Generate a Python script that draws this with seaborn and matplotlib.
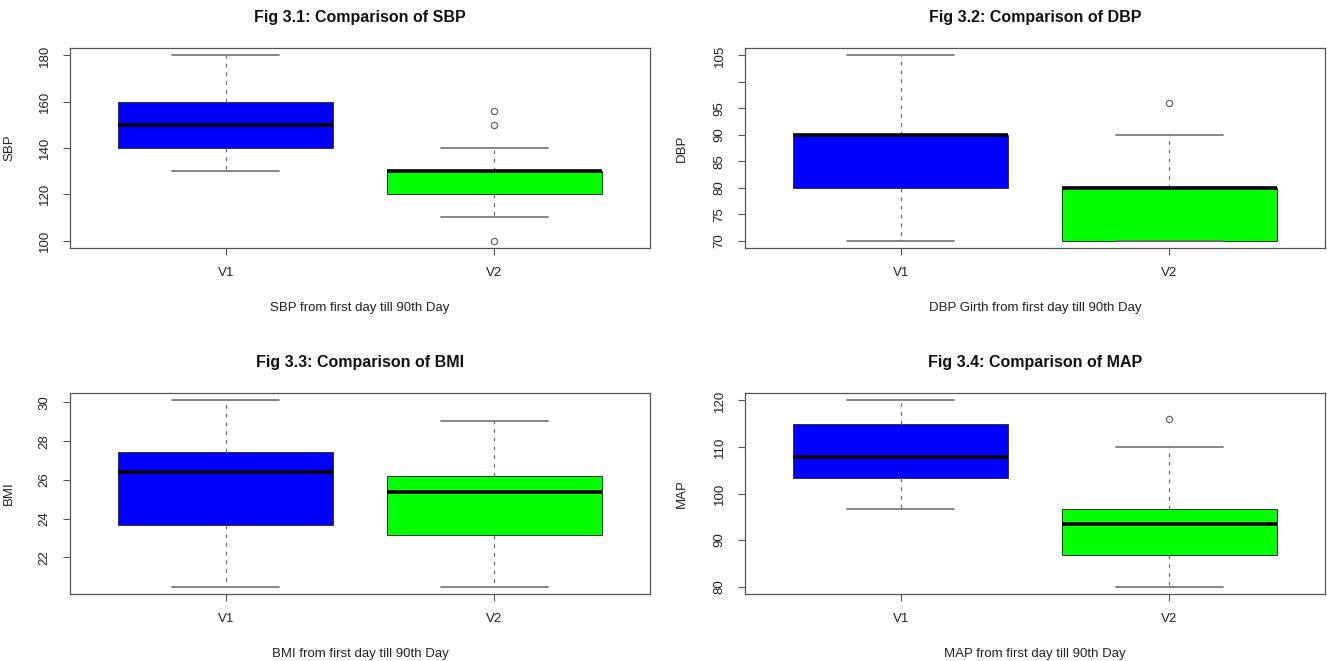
import matplotlib
matplotlib.use("Agg")
import numpy as np
import pandas as pd
import matplotlib.pyplot as plt
import seaborn as sns

# ------------------------------------------------------------
# data: observations per visit, read off the four boxplots
# ------------------------------------------------------------
visits = ["V1", "V2"]
box_colors = ["#0000FF", "#00FF00"]

sbp_v1 = [130, 140, 150, 160, 180]
sbp_v2 = [100, 110, 115, 120, 125, 128, 130, 130, 130, 130, 140, 150, 156]

dbp_v1 = [70, 80, 90, 90, 105]
dbp_v2 = [70, 70, 70, 75, 80, 80, 80, 90, 96]

bmi_v1 = [20.5, 23.7, 26.4, 27.45, 30.1]
bmi_v2 = [20.5, 23.15, 25.4, 26.2, 29.05]

map_v1 = [96.6, 103.4, 107.8, 115.0, 120.0]
map_v2 = [80, 84, 86.7, 90, 93.4, 95, 96.7, 110, 116]

titles = ["Fig 3.1: Comparison of SBP", "Fig 3.2: Comparison of DBP",
          "Fig 3.3: Comparison of BMI", "Fig 3.4: Comparison of MAP"]
ylabels = ["SBP", "DBP", "BMI", "MAP"]
xlabels = ["SBP from first day till 90th Day", "DBP Girth from first day till 90th Day",
           "BMI from first day till 90th Day", "MAP from first day till 90th Day"]
yticks = [[100, 120, 140, 160, 180],
          [70, 75, 80, 85, 90, 95, 100, 105],
          [22, 24, 26, 28, 30],
          [80, 90, 100, 110, 120]]
yticklabels = [["100", "120", "140", "160", "180"],
               ["70", "75", "80", "85", "90", "95", "", "105"],
               ["22", "24", "26", "28", "30"],
               ["80", "90", "100", "110", "120"]]

panels = [(sbp_v1, sbp_v2), (dbp_v1, dbp_v2), (bmi_v1, bmi_v2), (map_v1, map_v2)]

# ------------------------------------------------------------
# layout (pixels of a 1327x661 canvas)
# ------------------------------------------------------------
W, H = 1327, 661
boxes_px = [(70, 48, 650, 248), (745, 48, 1325, 248),
            (70, 393, 650, 594), (745, 393, 1325, 594)]

sns.set_style("white")
plt.rcParams["font.family"] = ["Liberation Sans", "DejaVu Sans"]

fig = plt.figure(figsize=(W / 100, H / 100), dpi=100)
frame_col = "#555555"
whisk_col = "#707070"

for i, (v1, v2) in enumerate(panels):
    x0, y0, x1, y1 = boxes_px[i]
    ax = fig.add_axes([x0 / W, 1 - y1 / H, (x1 - x0) / W, (y1 - y0) / H])

    df = pd.DataFrame({
        "visit": ["V1"] * len(v1) + ["V2"] * len(v2),
        "value": list(v1) + list(v2),
    })
    sns.boxplot(
        data=df, x="visit", y="value", hue="visit", order=visits, hue_order=visits,
        palette=box_colors, saturation=1, legend=False, width=0.8, ax=ax,
        linewidth=0.8, whis=1.5,
        boxprops=dict(edgecolor="#333333", linewidth=0.7),
        whiskerprops=dict(color=whisk_col, linestyle=(0, (3, 4)), linewidth=0.9),
        capprops=dict(color=whisk_col, linewidth=1.2),
        medianprops=dict(color="black", linewidth=2.6),
        flierprops=dict(marker="o", markerfacecolor="none", markeredgecolor="#666666",
                        markersize=4.5, markeredgewidth=0.9),
    )

    # R style limits: data range padded by 4%
    allv = np.array(list(v1) + list(v2), dtype=float)
    pad = 0.04 * (allv.max() - allv.min())
    ax.set_ylim(allv.min() - pad, allv.max() + pad)
    ax.set_xlim(-0.58, 1.58)

    ax.set_yticks(yticks[i])
    ax.set_yticklabels(yticklabels[i], rotation=90, va="center")
    ax.set_xticks([0, 1])
    ax.set_xticklabels(visits)
    ax.tick_params(axis="both", direction="out", length=5, width=0.8, color=frame_col,
                   labelsize=9.5, labelcolor="#222222", bottom=True, left=True)
    ax.tick_params(axis="y", pad=9)
    ax.tick_params(axis="x", pad=9)

    for s in ax.spines.values():
        s.set_visible(True)
        s.set_color(frame_col)
        s.set_linewidth(0.9)

    ax.set_title(titles[i], fontsize=11.5, fontweight="bold", pad=19, color="#111111")
    ax.set_xlabel(xlabels[i], fontsize=9.5, color="#222222")
    ax.set_ylabel(ylabels[i], fontsize=9.5, color="#222222")
    wpx = x1 - x0
    hpx = y1 - y0
    ax.yaxis.set_label_coords(-(x0 - 15) / wpx if x0 < 100 else -(x0 - 688) / wpx, 0.5)
    ax.xaxis.set_label_coords(0.5, -54 / hpx)

fig.savefig("out.png", dpi=100)
